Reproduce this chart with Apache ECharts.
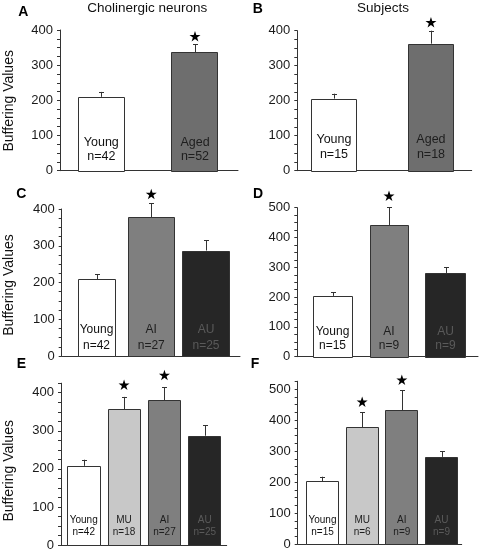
<!DOCTYPE html>
<html>
<head>
<meta charset="utf-8">
<script src="https://cdn.jsdelivr.net/npm/echarts@6/dist/echarts.min.js"></script>
<style>html,body{margin:0;padding:0;background:#fff}#c{width:481px;height:553px}</style>
</head>
<body>
<div id="c"></div>
<script>
// ---- data ----
const groupsA = ['Young', 'Aged'];
const nA = ['n=42', 'n=52'];
const meanA = [210, 337];
const semA = [14, 22];
const sigA = [false, true];

const groupsB = ['Young', 'Aged'];
const nB = ['n=15', 'n=18'];
const meanB = [206, 363];
const semB = [14, 37];
const sigB = [false, true];

const groupsC = ['Young', 'AI', 'AU'];
const nC = ['n=42', 'n=27', 'n=25'];
const meanC = [209, 378, 287];
const semC = [13, 37, 28];
const sigC = [false, true, false];

const groupsD = ['Young', 'AI', 'AU'];
const nD = ['n=15', 'n=9', 'n=9'];
const meanD = [204, 442, 281];
const semD = [13, 59, 20];
const sigD = [false, true, false];

const groupsE = ['Young', 'MU', 'AI', 'AU'];
const nE = ['n=42', 'n=18', 'n=27', 'n=25'];
const meanE = [208, 357, 380, 287];
const semE = [16, 32, 35, 27];
const sigE = [false, true, true, false];

const groupsF = ['Young', 'MU', 'AI', 'AU'];
const nF = ['n=15', 'n=6', 'n=9', 'n=9'];
const meanF = [203, 377, 431, 281];
const semF = [14, 48, 65, 19];
const sigF = [false, true, true, false];

const yTickStep = 100;
const titleLeft = 'Cholinergic neurons';
const titleRight = 'Subjects';
const yName = 'Buffering Values';
const panelLetters = ['A', 'B', 'C', 'D', 'E', 'F'];

// ---- styles ----
const fillColors = { Young: '#ffffff', Aged: '#6e6e6e', AI: '#7f7f7f', AU: '#262626', MU: '#c8c8c8' };
const textColors = { Young: '#111111', Aged: '#1e1e1e', AI: '#1e1e1e', AU: '#5a5a5a', MU: '#1e1e1e' };
const FONT = '"Liberation Sans", Arial, Helvetica, sans-serif';

const panels = [
  { groups: groupsA, n: nA, mean: meanA, sem: semA, sig: sigA,
    grid: { left: 60, top: 30, width: 178, height: 140.7 }, max: 400, xMin: -0.441, xMax: 1.459,
    widths: [47, 47], font: 12.5, lines: [28, 14], starGap: 7.6 },
  { groups: groupsB, n: nB, mean: meanB, sem: semB, sig: sigB,
    grid: { left: 297.3, top: 30.7, width: 174.4, height: 140 }, max: 400, xMin: -0.378, xMax: 1.42,
    widths: [46, 46], font: 12.5, lines: [30.7, 15.7], starGap: 8 },
  { groups: groupsC, n: nC, mean: meanC, sem: semC, sig: sigC,
    grid: { left: 61.7, top: 209, width: 178.3, height: 147 }, max: 400, xMin: -0.636, xMax: 2.621,
    widths: [38, 47, 48], font: 12, lines: [26.7, 10.3], starGap: 9 },
  { groups: groupsD, n: nD, mean: meanD, sem: semD, sig: sigD,
    grid: { left: 297.3, top: 207.7, width: 180.7, height: 149 }, max: 500, xMin: -0.623, xMax: 2.575,
    widths: [40, 39, 41], font: 12, lines: [25, 11], starGap: 11 },
  { groups: groupsE, n: nE, mean: meanE, sem: semE, sig: sigE,
    grid: { left: 61, top: 383.2, width: 165.7, height: 161.8 }, max: 425, xMin: -0.562, xMax: 3.542,
    widths: [34, 33, 33, 33], font: 10, lines: [25, 12.7], starGap: 11.5 },
  { groups: groupsF, n: nF, mean: meanF, sem: semF, sig: sigF,
    grid: { left: 297.7, top: 381.25, width: 164, height: 162.75 }, max: 525, xMin: -0.625, xMax: 3.509,
    widths: [33, 33, 33, 33], font: 10, lines: [24, 11.3], starGap: 10 }
];

function starPoints(cx, cy, R) {
  const r = R * 0.382, pts = [];
  for (let k = 0; k < 10; k++) {
    const rad = k % 2 === 0 ? R : r;
    const a = -Math.PI / 2 + k * Math.PI / 5;
    pts.push([cx + rad * Math.cos(a), cy + rad * Math.sin(a)]);
  }
  return pts;
}

const grids = [], xAxes = [], yAxes = [], series = [];
panels.forEach((p, pi) => {
  grids.push(Object.assign({ containLabel: false }, p.grid));
  xAxes.push({
    type: 'value', gridIndex: pi, min: p.xMin, max: p.xMax,
    axisLine: { show: true, onZero: false, lineStyle: { color: '#333', width: 1 } },
    axisTick: { show: false }, axisLabel: { show: false }, splitLine: { show: false }
  });
  yAxes.push({
    type: 'value', gridIndex: pi, min: 0, max: p.max, interval: 25,
    axisLine: { show: true, onZero: false, lineStyle: { color: '#333', width: 1 } },
    axisTick: { show: true, length: 3, inside: false, lineStyle: { color: '#333', width: 1 } },
    axisLabel: {
      margin: 7, color: '#1a1a1a', fontSize: 13, fontFamily: FONT,
      formatter: v => (v % yTickStep === 0 ? String(v) : '')
    },
    splitLine: { show: false }
  });
  const data = p.mean.map((m, i) => [i, m, p.sem[i]]);
  series.push({
    type: 'custom', xAxisIndex: pi, yAxisIndex: pi, clip: false, silent: true,
    data: data,
    renderItem: function (params, api) {
      const i = params.dataIndex;
      const x = api.value(0), v = api.value(1), s = api.value(2);
      const top = api.coord([x, v]);
      const base = api.coord([x, 0]);
      const et = api.coord([x, v + s]);
      const w = p.widths[i];
      const g = p.groups[i];
      const cx = Math.round(top[0]) + 0.5;
      const children = [
        { type: 'line', shape: { x1: cx, y1: top[1], x2: cx, y2: et[1] },
          style: { stroke: '#333', lineWidth: 1 } },
        { type: 'line', shape: { x1: cx - 2.5, y1: Math.round(et[1]) + 0.5, x2: cx + 2.5, y2: Math.round(et[1]) + 0.5 },
          style: { stroke: '#333', lineWidth: 1 } },
        { type: 'rect', shape: { x: Math.round(top[0] - w / 2) + 0.5, y: Math.round(top[1]) + 0.5, width: Math.round(w) - 1, height: Math.round(base[1]) - Math.round(top[1]) },
          style: { fill: fillColors[g], stroke: '#333', lineWidth: 1 } },
        { type: 'text', x: top[0], y: base[1] - p.lines[0],
          style: { text: g, fill: textColors[g], font: p.font + 'px ' + FONT, textAlign: 'center', textVerticalAlign: 'middle' } },
        { type: 'text', x: top[0], y: base[1] - p.lines[1],
          style: { text: p.n[i], fill: textColors[g], font: p.font + 'px ' + FONT, textAlign: 'center', textVerticalAlign: 'middle' } }
      ];
      if (p.sig[i]) {
        children.push({ type: 'polygon', shape: { points: starPoints(top[0], et[1] - p.starGap, 5.8) },
          style: { fill: '#000' } });
      }
      return { type: 'group', children: children };
    }
  });
});

const letterPos = [[23.3, 11.8], [257.7, 9.1], [21.3, 194.4], [258, 194.4], [21.3, 364], [255, 364]];
const graphics = [];
panelLetters.forEach((L, i) => {
  graphics.push({ type: 'text', x: letterPos[i][0], y: letterPos[i][1],
    style: { text: L, font: 'bold 14px ' + FONT, fill: '#000', textAlign: 'center', textVerticalAlign: 'middle' } });
});
graphics.push({ type: 'text', x: 147.3, y: 8.6,
  style: { text: titleLeft, font: '13.5px ' + FONT, fill: '#111', textAlign: 'center', textVerticalAlign: 'middle' } });
graphics.push({ type: 'text', x: 383, y: 7.8,
  style: { text: titleRight, font: '13.5px ' + FONT, fill: '#111', textAlign: 'center', textVerticalAlign: 'middle' } });
[[9.5, 100.8], [8.7, 285], [8.7, 470.8]].forEach(pos => {
  graphics.push({ type: 'text', x: pos[0], y: pos[1], rotation: Math.PI / 2,
    style: { text: yName, font: '14px ' + FONT, fill: '#111', textAlign: 'center', textVerticalAlign: 'middle' } });
});

const chart = echarts.init(document.getElementById('c'), null, { renderer: 'canvas' });
chart.setOption({
  animation: false,
  backgroundColor: '#ffffff',
  grid: grids, xAxis: xAxes, yAxis: yAxes, series: series,
  graphic: graphics
});
</script>
</body>
</html>
